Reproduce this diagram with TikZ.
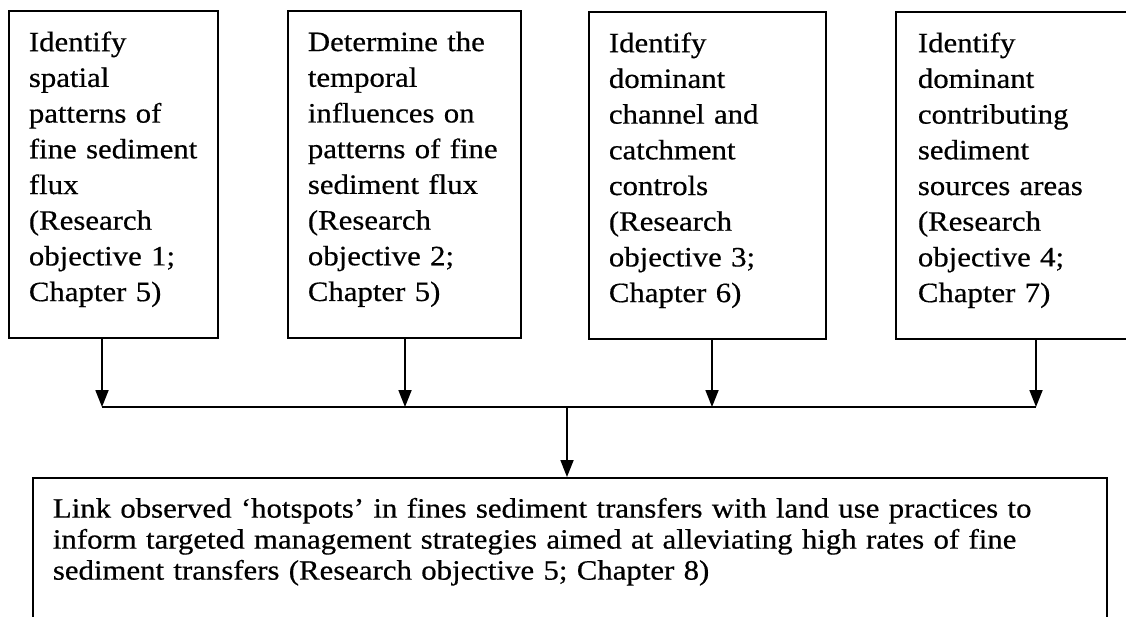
\documentclass[tikz,border=0pt]{standalone}
\usepackage{fontspec}
\setmainfont{Liberation Serif}[FakeStretch=1.1, FakeBold=0.5]
\usetikzlibrary{arrows.meta}
\newcommand\lowstrut[1]{\rule[-#1]{0pt}{#1}}
\newcommand\topfont{\fontsize{28pt}{35.7pt}\selectfont}
\newcommand\botfont{\fontsize{28pt}{31pt}\selectfont}
\tikzset{
  topbox/.style={draw, line width=1.8pt, anchor=north west, inner xsep=20pt, inner ysep=0pt,
    minimum height=327pt, align=left, font=\topfont},
  botbox/.style={draw, line width=1.8pt, anchor=north west, inner xsep=20pt, inner ysep=20pt,
    align=left, font=\botfont},
  conn/.style={line width=1.8pt},
  arr/.style={conn, -{Triangle[length=17pt,width=13pt]}},
}
\begin{document}
\begin{tikzpicture}[x=1pt,y=-1pt]
\fill[white] (0,0) rectangle (1126,616);
\useasboundingbox (0,0) rectangle (1126,616);

\node[topbox, text width=169pt] (b1) at (8,10)
  {Identify\\spatial\\patterns of\\fine sediment\\flux\\(Research\\objective 1;\\Chapter 5)\lowstrut{16.2pt}};
\node[topbox, text width=193pt] (b2) at (287,10)
  {Determine the\\temporal\\influences on\\patterns of fine\\sediment flux\\(Research\\objective 2;\\Chapter 5)\lowstrut{16.2pt}};
\node[topbox, text width=197pt] (b3) at (588,11)
  {Identify\\dominant\\channel and\\catchment\\controls\\(Research\\objective 3;\\Chapter 6)\lowstrut{16.2pt}};
\node[topbox, text width=197pt, inner xsep=22pt] (b4) at (895,11)
  {Identify\\dominant\\contributing\\sediment\\sources areas\\(Research\\objective 4;\\Chapter 7)\lowstrut{16.2pt}};

\node[botbox, text width=1034pt] (b5) at (32,477)
  {Link observed ‘hotspots’ in fines sediment transfers with land use practices to\\inform targeted management strategies aimed at alleviating high rates of fine\\sediment transfers (Research objective 5; Chapter 8)\lowstrut{60pt}};

\coordinate (j1) at (102,407);
\coordinate (j2) at (405,407);
\coordinate (j3) at (712,407);
\coordinate (j4) at (1036,407);
\coordinate (jc) at (567,407);

\draw[arr] (b1.south -| j1) -- (j1);
\draw[arr] (b2.south -| j2) -- (j2);
\draw[arr] (b3.south -| j3) -- (j3);
\draw[arr] (b4.south -| j4) -- (j4);
\draw[conn] (j1) -- (j4);
\draw[arr] (jc) -- (b5.north -| jc);
\end{tikzpicture}
\end{document}
